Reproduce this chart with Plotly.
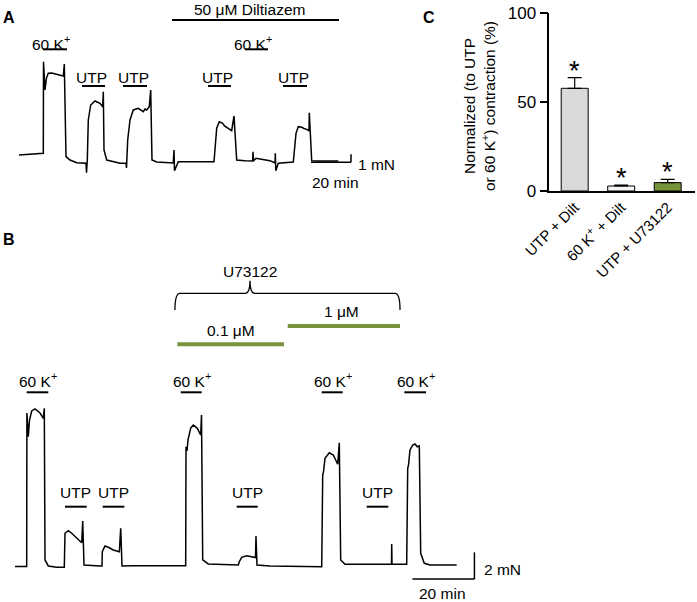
import plotly.graph_objects as go

W, H = 697, 602
FONT = "Arial, Liberation Sans, sans-serif"

# ---------------- Panel A : force trace (min, mN) ----------------
A_time = [0, 12.15, 12.25, 13, 13.75, 14.65, 16.35, 19, 22.15, 22.65, 23.5, 25.5, 28.85, 33.5,
          33.75, 34.15, 34.65, 35.85, 38, 39, 40.5, 41.85, 42.15, 42.5, 43.85, 50.5, 53.5,
          53.75, 54.35, 55.5, 57.15, 59.65, 60.75, 62.15, 63, 63.85, 65.15, 65.85, 66.5, 68.85,
          77.15, 77.5, 77.75, 79.65, 97.5, 98.15, 98.85, 100.15, 101.85, 102.75, 103.85, 106.35,
          107.5, 108.85, 113, 116.85, 117, 117.25, 118.5, 125.5, 128, 128.15, 128.4, 129.65,
          137.15, 137.5, 138.5, 139.65, 141.35, 142.5, 143.85, 145, 145.15, 146.35, 148, 159.65]
A_force = [0, 0.21, 11.66, 8.13, 9.63, 10.21, 10.25, 10.06, 9.88, 11.38, -0.21, -0.63, -0.96, -1.04,
           -2.21, -0.63, 4.38, 6.25, 6.75, 6.63, 6.46, 6.04, 7.91, 0.63, -0.63, -1.04, -1.0,
           -1.63, 1.88, 4.38, 5.63, 5.84, 5.63, 5.41, 5.75, 5.63, 6.04, 8.13, -0.63, -0.88,
           -1.0, 0.63, -1.96, -0.84, -0.84, 1.88, 3.34, 4.16, 3.96, 3.63, 3.46, 3.04,
           4.88, -0.63, -0.71, -0.75, 0.41, -0.75, -0.41, -0.71, -1.0, 0.21, -1.96, -1.04,
           -0.88, 0.0, 2.71, 3.54, 3.46, 3.31, 3.21, 3.0, 5.29, -0.71, -0.75, -0.75]
A_K_periods = [(12, 24), (113, 124.5)]
A_UTP_periods = [(31.5, 43), (52, 64), (94.5, 106), (132, 144)]
A_DILT_period = (76.5, 160)
A_scale = {"min": 20, "mN": 1, "t_end": 166, "f_base": -0.91}

# ---------------- Panel B : force trace (min, mN) ----------------
B_time = [0, 3.77, 3.84, 4.29, 4.68, 5.39, 6.45, 7.52, 8.06, 9.13, 9.45, 9.68, 10.74, 13.45,
          15.9, 16.13, 17.19, 18.29, 19.9, 21.52, 21.84, 22.26, 27.42, 28.06, 28.16, 29.03,
          30.1, 31.71, 33.65, 34.1, 34.52, 38.16, 55.06, 55.16, 55.48, 55.81, 56.68, 57.52,
          58.81, 59.9, 60.16, 60.55, 62.35, 72.03, 72.35, 73.13, 74.74, 76.87, 77.58, 77.74,
          78.06, 82.26, 98.94, 99.26, 99.52, 100, 101.39, 102.68, 104.1, 104.61, 105.06,
          106.45, 121.45, 121.52, 121.61, 126.35, 126.68, 126.94, 127.42, 128.29, 129.03,
          129.77, 130.42, 130.87, 132.03, 133.87, 142.48]
B_force = [0, 0, 11.5, 9.72, 10.97, 11.65, 11.8, 11.6, 11.5, 11.1, 11.85, 0.49, 0.04, -0.06,
           -0.06, 2.49, 2.68, 2.49, 2.11, 1.78, 3.41, 0.11, 0.04, 0.04, 1.11, 1.54,
           1.44, 1.24, 1.11, 2.86, 0.04, 0.06, 0.06, 8.97, 8.65, 9.48, 10.37, 10.6,
           10.35, 9.85, 11.35, 0.49, 0.19, 0.11, 0.36, 0.69, 0.81, 0.69, 0.67, 2.28,
           0.11, 0.04, -0.01, 6.85, 7.1, 8.1, 8.52, 8.35, 7.66, 9.27, 0.49,
           0.16, 0.16, 1.69, 0.16, 0.16, 7.36, 7.6, 8.73, 9.1, 9.18,
           8.97, 9.03, 0.99, 0.24, 0.11, 0.11]
B_K_periods = [(3.77, 10.74), (53.45, 60.23), (98.94, 105.71), (125.58, 132.58)]
B_UTP_periods = [(16.13, 23.13), (28.29, 35.26), (71.52, 78.29), (113.45, 120.42)]
B_U73122_low = (52.35, 86.77)
B_U73122_high = (87.97, 124.19)
B_U73122_brace = (51.6, 75.8, 124.2)   # left end, peak, right end (min)
B_scale = {"min": 20, "mN": 2, "t_end": 148.2, "f_base": -0.94}

# ---------------- Panel C : summary bars ----------------
C_labels = ["UTP + Dilt", "60 K<sup>+</sup> + Dilt", "UTP + U73122"]
C_values = [57.6, 2.8, 4.7]
C_errors = [6.0, 0.5, 1.8]
C_colors = ["#d9d9d9", "#f4f4f4", "#77933c"]
C_ticks = [0, 50, 100]

GREEN = "#77933c"
LBL = 15.5

def py(p):
    return 1 - p / H

fig = go.Figure()
fig.add_trace(go.Scatter(x=A_time, y=A_force, mode="lines", line=dict(color="black", width=1.5),
                         xaxis="x", yaxis="y", hoverinfo="skip"))
fig.add_trace(go.Scatter(x=B_time, y=B_force, mode="lines", line=dict(color="black", width=1.5),
                         xaxis="x2", yaxis="y2", hoverinfo="skip"))
fig.add_trace(go.Bar(x=C_labels, y=C_values, marker=dict(color=C_colors, line=dict(color="black", width=1)),
                     width=0.58, xaxis="x3", yaxis="y3",
                     error_y=dict(type="data", array=C_errors, arrayminus=[0] * 3, symmetric=False,
                                  color="black", thickness=1.2, width=7)))

shapes, ann = [], []

def hline(xref, t0, t1, ypx, color="black", width=2):
    shapes.append(dict(type="line", xref=xref, yref="paper", x0=t0, x1=t1, y0=py(ypx), y1=py(ypx),
                       line=dict(color=color, width=width)))

def text(xref, x, ypx, s, size=LBL, xshift=0, xanchor="center", **kw):
    ann.append(dict(xref=xref, yref="paper", x=x, y=py(ypx), text=s, showarrow=False,
                    xanchor=xanchor, yanchor="middle", xshift=xshift,
                    font=dict(family=FONT, size=size, color="black"), **kw))

K_TXT = "60 K<sup>+</sup>"

# Panel A decorations
for t0, t1 in A_K_periods:
    hline("x", t0, t1, 49.3)
    text("x", (t0 + t1) / 2, 43, K_TXT, xshift=-4)
for t0, t1 in A_UTP_periods:
    hline("x", t0, t1, 86)
    text("x", (t0 + t1) / 2, 77, "UTP", xshift=-2)
hline("x", A_DILT_period[0], A_DILT_period[1], 20)
text("x", sum(A_DILT_period) / 2, 10, "50 μM Diltiazem", xshift=-6)

# scale bars
for sc, xa, ya in [(A_scale, "x", "y"), (B_scale, "x2", "y2")]:
    shapes.append(dict(type="line", xref=xa, yref=ya, x0=sc["t_end"] - sc["min"], x1=sc["t_end"],
                       y0=sc["f_base"], y1=sc["f_base"], line=dict(color="black", width=1.5)))
    shapes.append(dict(type="line", xref=xa, yref=ya, x0=sc["t_end"], x1=sc["t_end"],
                       y0=sc["f_base"], y1=sc["f_base"] + sc["mN"], line=dict(color="black", width=1.5)))
text("x", A_scale["t_end"], 164, "1 mN", xanchor="left", xshift=5)
text("x", A_scale["t_end"] - A_scale["min"] / 2, 183, "20 min", xshift=4)
text("x2", B_scale["t_end"], 569, "2 mN", xanchor="left", xshift=8)
text("x2", B_scale["t_end"] - B_scale["min"] / 2, 593, "20 min", xshift=-1)

# Panel B decorations
for t0, t1 in B_K_periods:
    hline("x2", t0, t1, 392.3)
    text("x2", (t0 + t1) / 2, 380, K_TXT, xshift=1)
for t0, t1 in B_UTP_periods:
    hline("x2", t0, t1, 506.7)
    text("x2", (t0 + t1) / 2, 492, "UTP")
hline("x2", B_U73122_low[0], B_U73122_low[1], 344.3, color=GREEN, width=4)
hline("x2", B_U73122_high[0], B_U73122_high[1], 326, color=GREEN, width=4)
text("x2", sum(B_U73122_low) / 2, 330, "0.1 μM")
text("x2", sum(B_U73122_high) / 2, 311, "1 μM", xshift=-2)
bl, bc, br = B_U73122_brace
text("x2", bc, 271.7, "U73122")
d = 1.6
yb, ym, yt = py(310), py(293.3), py(280.7)
path = (f"M {bl},{yb} Q {bl},{ym} {bl + d},{ym} L {bc - d},{ym} Q {bc},{ym} {bc},{yt} "
        f"Q {bc},{ym} {bc + d},{ym} L {br - d},{ym} Q {br},{ym} {br},{yb}")
shapes.append(dict(type="path", xref="x2", yref="paper", path=path, line=dict(color="black", width=1.3)))

# Panel C decorations
for i, (v, e) in enumerate(zip(C_values, C_errors)):
    ann.append(dict(xref="x3", yref="y3", x=i, y=v + e, text="*", showarrow=False, yanchor="bottom",
                    yshift=-10, font=dict(family=FONT, size=27, color="black")))
ann.append(dict(xref="paper", yref="paper", x=480 / W, y=py(106),
                text="Normalized (to UTP<br>or 60 K<sup>+</sup>) contraction (%)",
                showarrow=False, textangle=-90, xanchor="center", yanchor="middle",
                font=dict(family=FONT, size=15.5, color="black")))

for s, xp, yp in [("A", 8.5, 17), ("B", 8.5, 240), ("C", 429, 17)]:
    ann.append(dict(xref="paper", yref="paper", x=xp / W, y=py(yp), text=f"<b>{s}</b>", showarrow=False,
                    xanchor="center", yanchor="middle", font=dict(family=FONT, size=16, color="black")))

fig.update_layout(
    template="none",
    width=W, height=H, margin=dict(l=0, r=0, t=0, b=0, autoexpand=False),
    paper_bgcolor="white", plot_bgcolor="white", showlegend=False,
    font=dict(family=FONT, color="black"),
    shapes=shapes, annotations=ann,
    xaxis=dict(domain=[0, 460 / W], range=[-9.5, 220.5], visible=False, anchor="y", automargin=False),
    yaxis=dict(domain=[py(200), 1], range=[-5.625, 19.375], visible=False, anchor="x", automargin=False),
    xaxis2=dict(domain=[0, 1], range=[-15 / 3.1, 682 / 3.1], visible=False, anchor="y2", automargin=False),
    yaxis2=dict(domain=[0, py(230)], range=[(566.5 - 602) / 13.35, 336.5 / 13.35], visible=False,
                anchor="x2", automargin=False),
    xaxis3=dict(domain=[549.3 / W, 695 / W], range=[-0.546, 2.587], anchor="y3", showline=True,
                linecolor="black", linewidth=1.5, ticks="", tickangle=-45, showgrid=False, zeroline=False,
                automargin=False, tickfont=dict(family=FONT, size=15, color="black")),
    yaxis3=dict(domain=[py(191), py(12.7)], range=[0, 100], anchor="x3", showline=True,
                linecolor="black", linewidth=1.5, ticks="outside", ticklen=8, tickwidth=1.5,
                tickcolor="black", tickvals=C_ticks, showgrid=False, zeroline=False, automargin=False,
                tickfont=dict(family=FONT, size=17, color="black")),
)
fig.write_html("out.html", config={"displayModeBar": False},
               post_script="document.body.style.margin='0px';document.body.style.padding='0px';")
